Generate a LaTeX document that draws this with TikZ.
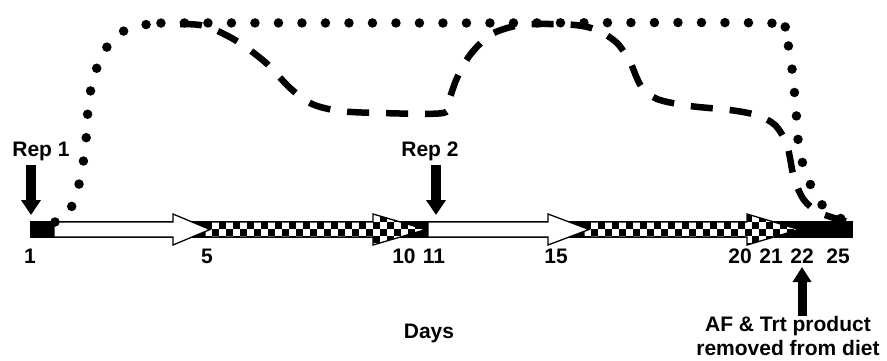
\documentclass[tikz,border=0pt]{standalone}
\usepackage{fontspec}
\setmainfont{Liberation Sans}
\usetikzlibrary{arrows.meta}
\tikzset{
  lbl/.style={font=\bfseries\fontsize{21}{24}\selectfont, inner sep=0pt, anchor=base},
  openarrow/.style={draw=black, line width=1.3pt, fill=white},
  chkoutline/.style={draw=black, line width=1.3pt},
  blockdown/.style={line width=10pt, -{Triangle[width=19pt,length=15pt]}},
  dotcurve/.style={line width=9.5pt, line cap=round, dash pattern=on 0pt off 23.5pt},
  dashcurve/.style={line width=6.5pt, dash pattern=on 22pt off 17pt}
}
% checkered block arrow: #1 = left x, #2 = head base x, #3 = tip x
\newcommand\checkarrow[3]{%
  \begin{scope}
    \clip (#1,222) -- (#2,222) -- (#2,214) -- (#3,229.5) -- (#2,245) -- (#2,237) -- (#1,237) -- cycle;
    \fill[white] (#1,205) rectangle (#3,255);
    \foreach \i in {0,...,32}{
      \foreach \j in {0,...,6}{
        \pgfmathtruncatemacro\oddsq{mod(\i+\j,2)}
        \ifnum\oddsq=0
          \fill[black] ({#1+\i*7},{208+\j*7}) rectangle ++(7,7);
        \fi
      }
    }
  \end{scope}
  \draw[chkoutline] (#1,222) -- (#2,222) -- (#2,214) -- (#3,229.5) -- (#2,245) -- (#2,237) -- (#1,237) -- cycle;
}
\begin{document}
\begin{tikzpicture}[x=1pt,y=-1pt]
\useasboundingbox (0,0) rectangle (887,360);

% day axis bar
\fill[black] (30,221) rectangle (853,238);

% treatment periods
\checkarrow{205}{373}{426}
\checkarrow{584}{747}{799}
\draw[openarrow] (54,222) -- (173,222) -- (173,214) -- (210,229.5) -- (173,245) -- (173,237) -- (54,237) -- cycle;
\draw[openarrow] (428,222) -- (548,222) -- (548,214) -- (589,229.5) -- (548,245) -- (548,237) -- (428,237) -- cycle;

% response curves
\draw[dotcurve] plot[smooth, tension=0.55] coordinates {
  (55,222) (68,213) (76,195) (82,170) (86,140) (88,110) (92,84) (100,60)
  (112,40) (128,29) (150,24) (175,23) (470,23) (765,23) (781,30) (789,48)
  (793,78) (796,110) (799,148) (806,173) (816,196) (830,213) (850,222)};
\draw[dashcurve] plot[smooth, tension=0.5] coordinates {
  (180,24) (205,26) (235,40) (265,62) (290,88) (312,104) (340,111) (380,113)
  (443,113) (449,100) (457,78) (470,55) (490,35) (515,26) (540,24) (575,25)
  (597,30) (617,43) (630,62) (641,86) (657,99) (690,106) (730,110) (756,115)
  (775,125) (787,145) (794,178) (804,200) (820,213) (848,222)};

% day labels
\node[lbl] (d1)  at (30,263)  {1};
\node[lbl] (d5)  at (207,263) {5};
\node[lbl] (d10) at (404,263) {10};
\node[lbl] (d11) at (434,263) {11};
\node[lbl] (d15) at (556,263) {15};
\node[lbl] (d20) at (740,263) {20};
\node[lbl] (d21) at (771,263) {21};
\node[lbl] (d22) at (802,263) {22};
\node[lbl] (d25) at (838,263) {25};
\node[lbl] (days) at (429,338) {Days};

% replicate markers
\node[lbl] (rep1) at (41,156) {Rep 1};
\node[lbl] (rep2) at (430,156) {Rep 2};
\coordinate (rep1top) at (31,165);
\coordinate (rep1tip) at (31,215);
\coordinate (rep2top) at (436,165);
\coordinate (rep2tip) at (436,215);
\draw[blockdown] (rep1top) -- (rep1tip);
\draw[blockdown] (rep2top) -- (rep2tip);

% removal note
\node[lbl, align=center, anchor=north] (removed) at (788,316)
  {AF \& Trt product\\removed from diet};
\coordinate (remtip) at (802,267);
\draw[line width=9pt, -{Triangle[width=18pt,length=15pt]}] (removed.north -| remtip) -- (remtip);
\end{tikzpicture}
\end{document}
